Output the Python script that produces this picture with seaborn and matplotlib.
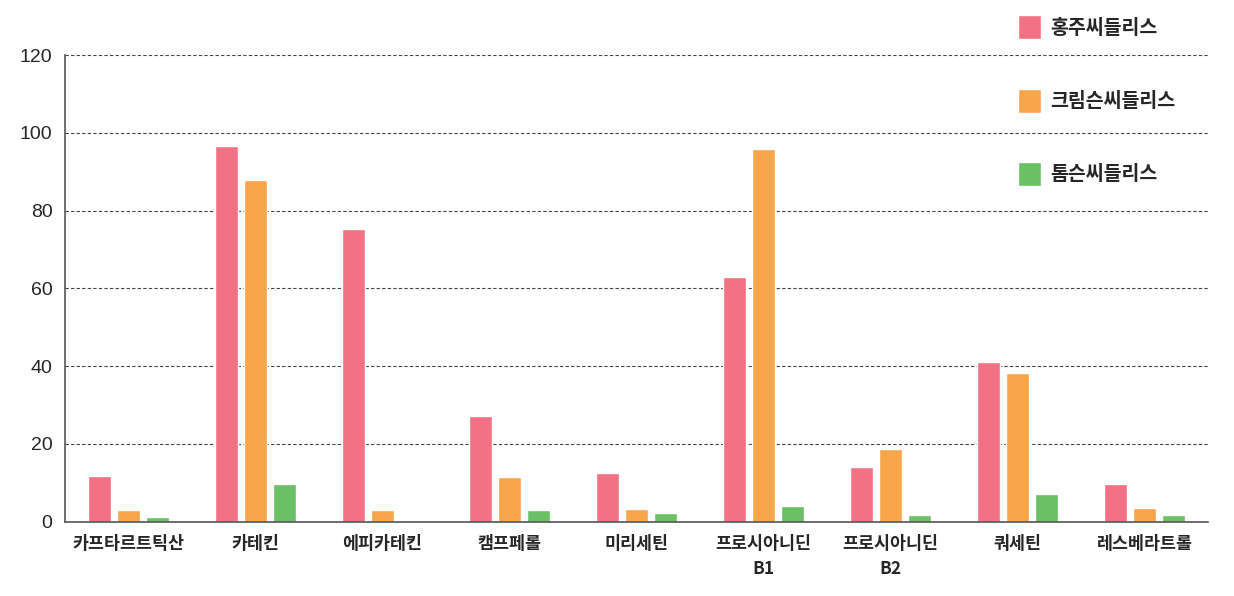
""" grouped bar chart: 세 품종 씨들리스 포도의 폴리페놀 성분 비교 """

import matplotlib
matplotlib.use('Agg')
import matplotlib.pyplot as plt # matplotlib graphing capabilities
import seaborn as sns # seaborn graphing capabilities
import pandas as pd

# ~~~~~~~~~  Data  ~~~~ ~~~~~~ ~~~~~~~~~~~~ ~~~~~~~~~~ ~~~~ ~~~~~ ~~~~~~~~~~ ~ #
compounds = ['카프타르트틱산', '카테킨', '에피카테킨', '캠프페롤', '미리세틴',
             '프로시아니딘\nB1', '프로시아니딘\nB2', '쿼세틴', '레스베라트롤']
varieties = ['홍주씨들리스', '크림슨씨들리스', '톰슨씨들리스']
hongju = [11.6, 96.6, 75.2, 27.2, 12.4, 62.8, 14.0, 41.0, 9.7]
crimson = [2.9, 87.9, 2.9, 11.5, 3.1, 95.8, 18.6, 38.2, 3.6]
thompson = [1.1, 9.7, 0.0, 2.9, 2.1, 4.0, 1.7, 7.2, 1.6]
colors = ['#F27183', '#F9A54A', '#6BC066']
y_ticks = [0, 20, 40, 60, 80, 100, 120]

# long-form table for seaborn
rows = []
for name, values in zip(varieties, [hongju, crimson, thompson]):
    for compound, value in zip(compounds, values):
        rows.append({'compound': compound, 'variety': name, 'value': value})
df = pd.DataFrame(rows)

# ~~~~~~~~~  Plot  ~~ ~~~~ ~~~~~~ ~~~~~~~~~~~~ ~~~~~~~~~~ ~~~~ ~~~~~ ~~~~~~~~~~ ~ #
sns.set_style('white')
plt.rcParams['font.family'] = ['Noto Sans CJK KR', 'DejaVu Sans']

fig = plt.figure(figsize=(12.34, 5.96), dpi=100)
axes = fig.add_axes([0.0527, 0.125, 0.9263, 0.7827])

sns.barplot(data=df, x='compound', y='value', hue='variety', order=compounds,
            hue_order=varieties, palette=colors, width=0.685, gap=0.22,
            saturation=1, ax=axes, legend=True)

axes.set_ylim(0, 120)
axes.set_xlim(-0.5, len(compounds) - 0.5)
axes.set_yticks(y_ticks)
axes.set_yticklabels([str(t) for t in y_ticks], fontfamily='Liberation Sans', fontsize=14)
axes.set(xlabel='', ylabel='')
axes.tick_params(axis='both', length=0)
axes.tick_params(axis='y', pad=9)
axes.tick_params(axis='x', pad=10)
for label in axes.get_xticklabels():
    label.set_fontsize(12.5)
    label.set_fontweight('bold')
    label.set_linespacing(1.45)

# dashed grid lines behind the bars
axes.yaxis.grid(True, linestyle=(0, (3, 2)), color='#444444', linewidth=0.8)
axes.set_axisbelow(True)
for side in ['top', 'right']:
    axes.spines[side].set_visible(False)
for side in ['left', 'bottom']:
    axes.spines[side].set_color('#555555')
    axes.spines[side].set_linewidth(1.2)

# legend in the upper right, widely spaced, no frame
handles, labels = axes.get_legend_handles_labels()
axes.legend(handles, labels, loc='upper left', bbox_to_anchor=(1000 / 1234, 1 + 2 / 596),
            bbox_transform=fig.transFigure, frameon=False,
            prop={'family': 'Noto Sans CJK KR', 'weight': 'bold', 'size': 14},
            handlelength=1.2, handleheight=1.5, handletextpad=0.5, labelspacing=2.55)

fig.savefig('out.png', dpi=100)
